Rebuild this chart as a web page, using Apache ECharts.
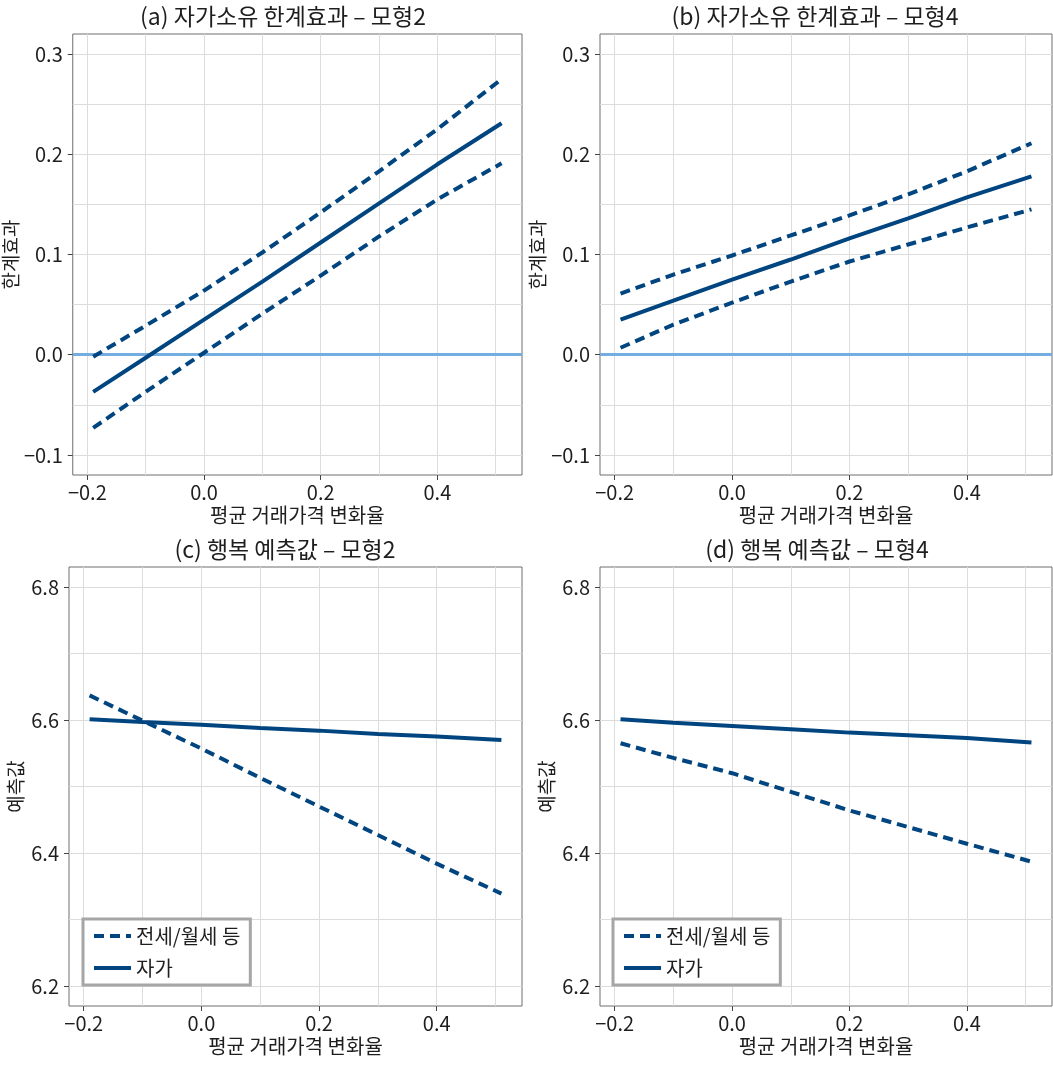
<!DOCTYPE html>
<html>
<head>
<meta charset="utf-8">
<script src="https://cdn.jsdelivr.net/npm/echarts@6/dist/echarts.min.js"></script>
<style>
  html, body { margin: 0; padding: 0; background: #fff; }
  #chart { width: 1053px; height: 1065px; }
</style>
</head>
<body>
<div id="chart"></div>
<script>
// x grid of the fitted curves (평균 거래가격 변화율)
const xVals = [-0.19, -0.1, 0, 0.1, 0.2, 0.3, 0.4, 0.51];

// (a) 자가소유 한계효과 - 모형2
const aEst   = [-0.037, -0.003, 0.035, 0.073, 0.112, 0.151, 0.190, 0.231];
const aUpper = [-0.002, 0.029, 0.064, 0.102, 0.142, 0.183, 0.225, 0.275];
const aLower = [-0.073, -0.037, 0.002, 0.041, 0.079, 0.118, 0.155, 0.191];

// (b) 자가소유 한계효과 - 모형4
const bEst   = [0.035, 0.054, 0.075, 0.095, 0.116, 0.136, 0.157, 0.178];
const bUpper = [0.061, 0.080, 0.099, 0.119, 0.139, 0.160, 0.183, 0.211];
const bLower = [0.007, 0.030, 0.052, 0.073, 0.093, 0.110, 0.127, 0.145];

// (c) 행복 예측값 - 모형2
const cOwn  = [6.601, 6.597, 6.593, 6.588, 6.584, 6.579, 6.575, 6.570];
const cRent = [6.637, 6.599, 6.557, 6.513, 6.470, 6.427, 6.384, 6.339];

// (d) 행복 예측값 - 모형4
const dOwn  = [6.601, 6.596, 6.591, 6.586, 6.581, 6.577, 6.573, 6.566];
const dRent = [6.565, 6.543, 6.520, 6.492, 6.464, 6.439, 6.414, 6.387];

// tick labels and grid lines
const xLabelVals = [-0.2, 0, 0.2, 0.4];
const xGridVals  = [-0.2, -0.1, 0, 0.1, 0.2, 0.3, 0.4, 0.5];
const effLabelVals = [-0.1, 0, 0.1, 0.2, 0.3];
const effGridVals  = [-0.1, -0.05, 0, 0.05, 0.1, 0.15, 0.2, 0.25, 0.3];
const predLabelVals = [6.2, 6.4, 6.6, 6.8];
const predGridVals  = [6.2, 6.3, 6.4, 6.5, 6.6, 6.7, 6.8];

const titles = [
  '(a) 자가소유 한계효과 – 모형2',
  '(b) 자가소유 한계효과 – 모형4',
  '(c) 행복 예측값 – 모형2',
  '(d) 행복 예측값 – 모형4',
];
const legendNames = ['전세/월세 등', '자가'];

const COLORS = {
  line:  '#00457f',
  zero:  '#74addf',
  grid:  '#dcdcdc',
  frame: '#6e6e6e',
  text:  '#1e1e1e',
};
const FONT = '"Noto Sans CJK KR", "Noto Sans", sans-serif';

const grids = [
  { left: 69,  top: 34,  width: 453, height: 441 },
  { left: 600, top: 34,  width: 452, height: 441 },
  { left: 69,  top: 567, width: 453, height: 439 },
  { left: 600, top: 567, width: 452, height: 439 },
];
const titlePos = [
  { x: 283, y: 5 },
  { x: 815, y: 5 },
  { x: 285, y: 538 },
  { x: 817, y: 538 },
];

function fmt(v) {
  return (v < 0 ? '−' : '') + Math.abs(v).toFixed(1);
}

function pairs(ys) {
  return xVals.map((x, i) => [x, ys[i]]);
}

function xAxes(gi) {
  return [
    {
      type: 'value', gridIndex: gi, min: -0.225, max: 0.545, position: 'bottom',
      axisLine: { show: false, onZero: false },
      axisTick: { show: false, customValues: xGridVals },
      splitLine: { show: true, lineStyle: { color: COLORS.grid, width: 1 } },
      axisLabel: { customValues: xLabelVals, formatter: fmt, fontSize: 20, color: COLORS.text, fontFamily: FONT, margin: 7 },
      name: '평균 거래가격 변화율', nameLocation: 'middle', nameGap: 30,
      nameTextStyle: { fontSize: 20, color: COLORS.text, fontFamily: FONT },
    },
    {
      type: 'value', gridIndex: gi, min: -0.225, max: 0.545, position: 'bottom',
      axisLine: { show: false, onZero: false },
      axisTick: { show: true, inside: false, customValues: xLabelVals, length: 5, lineStyle: { color: '#444' } },
      splitLine: { show: false },
      axisLabel: { show: false },
    },
  ];
}

function yAxes(gi, pred) {
  const min = pred ? 6.17 : -0.12;
  const max = pred ? 6.83 : 0.32;
  return [
    {
      type: 'value', gridIndex: gi, min, max, position: 'left',
      axisLine: { show: false, onZero: false },
      axisTick: { show: false, customValues: pred ? predGridVals : effGridVals },
      splitLine: { show: true, lineStyle: { color: COLORS.grid, width: 1 } },
      axisLabel: { customValues: pred ? predLabelVals : effLabelVals, formatter: fmt, fontSize: 20, color: COLORS.text, fontFamily: FONT, margin: 10 },
      name: pred ? '예측값' : '한계효과', nameLocation: 'middle', nameGap: 44,
      nameTextStyle: { fontSize: 19, color: COLORS.text, fontFamily: FONT },
    },
    {
      type: 'value', gridIndex: gi, min, max, position: 'left',
      axisLine: { show: false, onZero: false },
      axisTick: { show: true, inside: false, customValues: pred ? predLabelVals : effLabelVals, length: 5, lineStyle: { color: '#444' } },
      splitLine: { show: false },
      axisLabel: { show: false },
    },
  ];
}

function lineSeries(name, gi, ys, dashed) {
  return {
    name, type: 'line', xAxisIndex: gi * 2, yAxisIndex: gi * 2,
    data: pairs(ys), showSymbol: false, symbol: 'none', smooth: false, silent: true,
    lineStyle: { color: COLORS.line, width: 4, type: dashed ? [10, 6] : 'solid' },
    itemStyle: { color: COLORS.line },
    z: 3,
  };
}

function zeroLine(gi) {
  return {
    name: 'zero', type: 'line', xAxisIndex: gi * 2, yAxisIndex: gi * 2, data: [], silent: true,
    markLine: {
      silent: true, symbol: 'none', z: 1, label: { show: false },
      lineStyle: { color: COLORS.zero, width: 3, type: 'solid' },
      emphasis: { disabled: true },
      data: [{ yAxis: 0 }],
    },
  };
}

const xAxis = [];
const yAxis = [];
for (let i = 0; i < 4; i++) {
  xAxis.push(...xAxes(i));
  yAxis.push(...yAxes(i, i >= 2));
}

const series = [
  zeroLine(0),
  lineSeries('하한', 0, aLower, true),
  lineSeries('상한', 0, aUpper, true),
  lineSeries('한계효과', 0, aEst, false),
  zeroLine(1),
  lineSeries('하한', 1, bLower, true),
  lineSeries('상한', 1, bUpper, true),
  lineSeries('한계효과', 1, bEst, false),
  lineSeries(legendNames[0], 2, cRent, true),
  lineSeries(legendNames[1], 2, cOwn, false),
  lineSeries(legendNames[0], 3, dRent, true),
  lineSeries(legendNames[1], 3, dOwn, false),
];

function legendAt(left) {
  return {
    data: legendNames, orient: 'vertical', left, top: 919,
    backgroundColor: '#fff', borderColor: '#a6a6a6', borderWidth: 3, borderRadius: 0,
    padding: [7, 10, 7, 9], itemGap: 12, itemWidth: 37, itemHeight: 14,
    selectedMode: false,
    itemStyle: { opacity: 0 },
    lineStyle: { width: 4 },
    textStyle: { fontSize: 20, color: COLORS.text, fontFamily: FONT },
  };
}

const chart = echarts.init(document.getElementById('chart'), null, { renderer: 'canvas' });
chart.setOption({
  backgroundColor: '#fff',
  animation: false,
  title: titles.map((t, i) => ({
    text: t, left: titlePos[i].x, top: titlePos[i].y, textAlign: 'center', padding: 0,
    textStyle: { fontSize: 23, fontWeight: 'normal', color: COLORS.text, fontFamily: FONT },
  })),
  grid: grids.map((g) => ({ ...g, show: true, borderColor: COLORS.frame, borderWidth: 1, backgroundColor: '#fff' })),
  legend: [legendAt(83), legendAt(613)],
  xAxis,
  yAxis,
  series,
});
</script>
</body>
</html>
